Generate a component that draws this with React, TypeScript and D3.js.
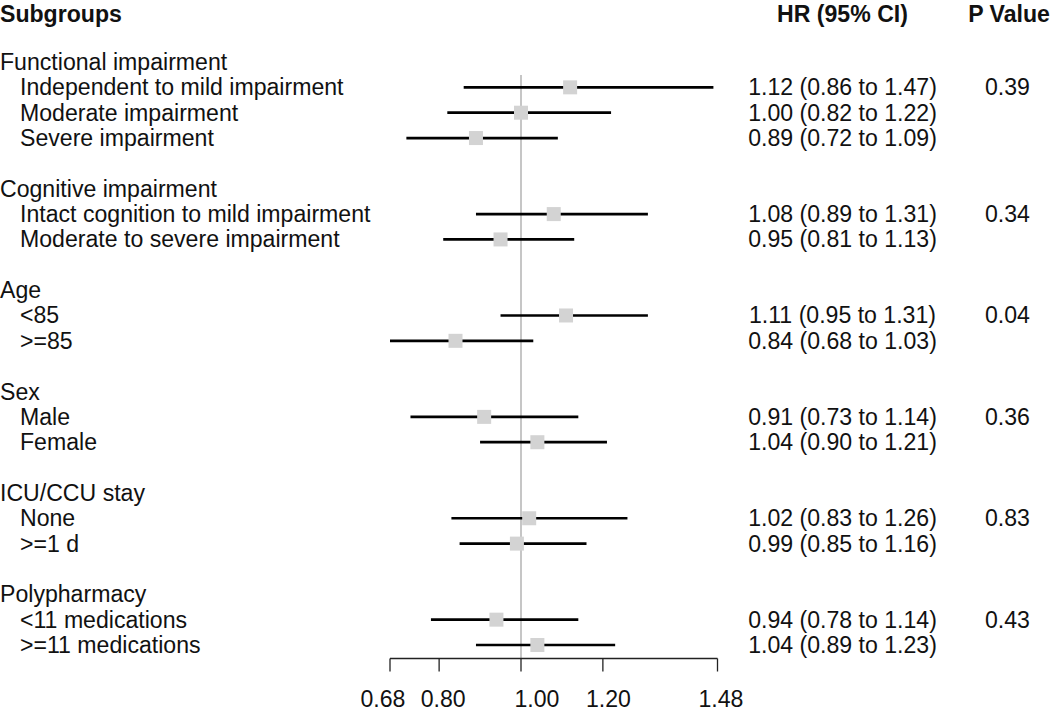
import React from "react";
import * as d3 from "d3";

const groups = ["Functional impairment", "Cognitive impairment", "Age", "Sex", "ICU/CCU stay", "Polypharmacy"];
const groupPValues = ["0.39", "0.34", "0.04", "0.36", "0.83", "0.43"];
const subgroupLabels = [
  ["Independent to mild impairment", "Moderate impairment", "Severe impairment"],
  ["Intact cognition to mild impairment", "Moderate to severe impairment"],
  ["<85", ">=85"],
  ["Male", "Female"],
  ["None", ">=1 d"],
  ["<11 medications", ">=11 medications"],
];
const hrValues = [[1.12, 1.0, 0.89], [1.08, 0.95], [1.11, 0.84], [0.91, 1.04], [1.02, 0.99], [0.94, 1.04]];
const lowerCI = [[0.86, 0.82, 0.72], [0.89, 0.81], [0.95, 0.68], [0.73, 0.9], [0.83, 0.85], [0.78, 0.89]];
const upperCI = [[1.47, 1.22, 1.09], [1.31, 1.13], [1.31, 1.03], [1.14, 1.21], [1.26, 1.16], [1.14, 1.23]];
const tickValues = [0.68, 0.8, 1.0, 1.2, 1.48];

const W = 1050;
const H = 714;
const FONT = "'Liberation Sans', Arial, sans-serif";
const FS = 23.1;
// small horizontal nudges of the tick labels, as in the reference rendering
const TICK_LABEL_DX = [-7, 4, 16, 5.5, 3.5];

type Row = { kind: "group" | "sub"; label: string; g: number; s: number; idx: number };

export default function App() {
  const rows: Row[] = [];
  let idx = 0;
  groups.forEach((g, gi) => {
    rows.push({ kind: "group", label: g, g: gi, s: -1, idx: idx++ });
    subgroupLabels[gi].forEach((s, si) => {
      rows.push({ kind: "sub", label: s, g: gi, s: si, idx: idx++ });
    });
    idx++; // blank row
  });
  const nRows = idx - 1;
  const y = d3.scaleLinear().domain([0, nRows - 1]).range([62, 645]);
  const x = d3.scaleLinear().domain([0.68, 1.48]).range([390, 717.5]);
  const axisY = 658.5;
  const fmt = d3.format(".2f");
  const sq = 14;

  return (
    <div style={{ position: "absolute", left: 0, top: 0 }}>
      <svg width={W} height={H} style={{ display: "block", background: "#fff" }} fontFamily={FONT}>
        <text x={0} y={14} fontSize={FS} fontWeight="bold" dominantBaseline="central" fill="#111">Subgroups</text>
        <text x={842.5} y={14} fontSize={FS} fontWeight="bold" textAnchor="middle" dominantBaseline="central" fill="#111">HR (95% CI)</text>
        <text x={1009} y={14} fontSize={FS} fontWeight="bold" textAnchor="middle" dominantBaseline="central" fill="#111">P Value</text>

        <line x1={x(1)} x2={x(1)} y1={75} y2={axisY} stroke="#a8a8a8" strokeWidth={1.3} />

        {rows.map((r) => {
          const yy = y(r.idx);
          if (r.kind === "group") {
            return (
              <text key={"g" + r.idx} x={0} y={yy} fontSize={FS} dominantBaseline="central" fill="#111">{r.label}</text>
            );
          }
          const hr = hrValues[r.g][r.s];
          const lo = lowerCI[r.g][r.s];
          const hi = upperCI[r.g][r.s];
          return (
            <g key={"s" + r.idx}>
              <text x={20} y={yy} fontSize={FS} dominantBaseline="central" fill="#111">{r.label}</text>
              <line x1={x(lo)} x2={x(hi)} y1={yy} y2={yy} stroke="#000" strokeWidth={2.7} />
              <rect x={x(hr) - sq / 2} y={yy - sq / 2} width={sq} height={sq} fill="#d3d3d3" />
              <text x={842.5} y={yy} fontSize={FS} textAnchor="middle" dominantBaseline="central" fill="#111">
                {`${fmt(hr)} (${fmt(lo)} to ${fmt(hi)})`}
              </text>
              {r.s === 0 && (
                <text x={1007.5} y={yy} fontSize={FS} textAnchor="middle" dominantBaseline="central" fill="#111">{groupPValues[r.g]}</text>
              )}
            </g>
          );
        })}

        <line x1={x(0.68)} x2={x(1.48)} y1={axisY} y2={axisY} stroke="#222" strokeWidth={1.3} />
        {tickValues.map((t, i) => (
          <g key={t}>
            <line x1={x(t)} x2={x(t)} y1={axisY} y2={axisY + 13} stroke="#222" strokeWidth={1.3} />
            <text x={x(t) + TICK_LABEL_DX[i]} y={699} fontSize={FS} textAnchor="middle" dominantBaseline="central" fill="#111">{fmt(t)}</text>
          </g>
        ))}
      </svg>
    </div>
  );
}
